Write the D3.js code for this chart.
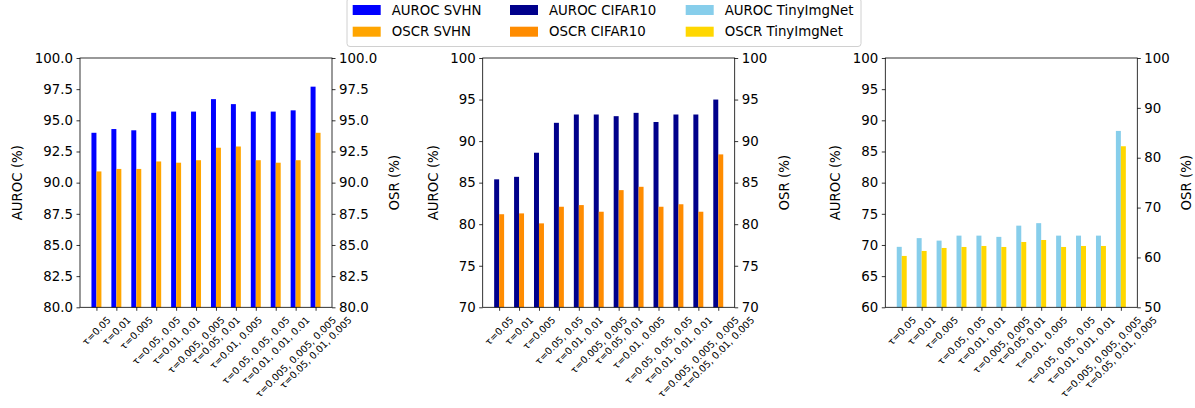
<!DOCTYPE html>
<html>
<head>
<meta charset="utf-8">
<script src="https://cdnjs.cloudflare.com/ajax/libs/d3/7.8.5/d3.min.js"></script>
<style>
  body { margin: 0; background: #fff; }
  svg text { font-family: "DejaVu Sans", sans-serif; fill: #000; }
</style>
</head>
<body>
<div id="chart"></div>
<script>
// categories and values
var categories = ["τ=0.05", "τ=0.01", "τ=0.005", "τ=0.05, 0.05", "τ=0.01, 0.01",
    "τ=0.005, 0.005", "τ=0.05, 0.01", "τ=0.01, 0.005", "τ=0.05, 0.05, 0.05",
    "τ=0.01, 0.01, 0.01", "τ=0.005, 0.005, 0.005", "τ=0.05, 0.01, 0.005"];

var aurocSVHN = [94.0, 94.3, 94.2, 95.6, 95.7, 95.7, 96.7, 96.3, 95.7, 95.7, 95.8, 97.7];
var oscrSVHN = [90.9, 91.1, 91.1, 91.7, 91.6, 91.8, 92.8, 92.9, 91.8, 91.6, 91.8, 94.0];
var aurocCIFAR = [85.4, 85.7, 88.6, 92.2, 93.2, 93.2, 93.0, 93.4, 92.3, 93.2, 93.2, 95.0];
var oscrCIFAR = [81.2, 81.3, 80.1, 82.1, 82.3, 81.5, 84.1, 84.5, 82.1, 82.4, 81.5, 88.4];
var aurocTiny = [69.7, 71.1, 70.7, 71.5, 71.5, 71.3, 73.1, 73.5, 71.5, 71.5, 71.5, 88.3];
var oscrTiny = [60.3, 61.3, 61.9, 62.1, 62.3, 62.1, 63.1, 63.5, 62.1, 62.3, 62.3, 82.3];

var leftTicks1 = [80, 82.5, 85, 87.5, 90, 92.5, 95, 97.5, 100];
var leftTicks2 = [70, 75, 80, 85, 90, 95, 100];
var leftTicks3 = [60, 65, 70, 75, 80, 85, 90, 95, 100];
var rightTicks3 = [50, 60, 70, 80, 90, 100];

var legendNames = ["AUROC SVHN", "OSCR SVHN", "AUROC CIFAR10", "OSCR CIFAR10", "AUROC TinyImgNet", "OSCR TinyImgNet"];

var panels = [
    { left: 80, auroc: aurocSVHN, oscr: oscrSVHN, c1: "#0000ff", c2: "#ffa500",
      yl: [80, 100], yr: [80, 100], tl: leftTicks1, tr: leftTicks1, fmt: d3.format(".1f") },
    { left: 482.7, auroc: aurocCIFAR, oscr: oscrCIFAR, c1: "#00008b", c2: "#ff8c00",
      yl: [70, 100], yr: [70, 100], tl: leftTicks2, tr: leftTicks2, fmt: d3.format("d") },
    { left: 885.3, auroc: aurocTiny, oscr: oscrTiny, c1: "#87ceeb", c2: "#ffd700",
      yl: [60, 100], yr: [50, 100], tl: leftTicks3, tr: rightTicks3, fmt: d3.format("d") }
];

var W = 1195, H = 408;
var top_ = 58, bottom_ = 307.3, pw = 252;
var fs = 13.33, xfs = 9.7;

var svg = d3.select("#chart").append("svg")
    .attr("width", W).attr("height", H);

panels.forEach(function (p) {
    var g = svg.append("g").attr("transform", "translate(" + p.left + ",0)");

    var x = d3.scaleLinear().domain([-0.825, 11.825]).range([0, pw]);
    var yl = d3.scaleLinear().domain(p.yl).range([bottom_, top_]);
    var yr = d3.scaleLinear().domain(p.yr).range([bottom_, top_]);

    // bars
    g.selectAll(".b1").data(p.auroc).enter().append("rect")
        .attr("x", function (d, i) { return x(i - 0.25); })
        .attr("width", x(0.25) - x(0))
        .attr("y", function (d) { return yl(d); })
        .attr("height", function (d) { return bottom_ - yl(d); })
        .attr("fill", p.c1);
    g.selectAll(".b2").data(p.oscr).enter().append("rect")
        .attr("x", function (d, i) { return x(i); })
        .attr("width", x(0.25) - x(0))
        .attr("y", function (d) { return yr(d); })
        .attr("height", function (d) { return bottom_ - yr(d); })
        .attr("fill", p.c2);

    // frame
    g.append("rect").attr("x", 0).attr("y", top_).attr("width", pw).attr("height", bottom_ - top_)
        .attr("fill", "none").attr("stroke", "#000").attr("stroke-width", 0.8);

    // y axes
    var gl = g.append("g").call(d3.axisLeft(yl).tickValues(p.tl).tickFormat(p.fmt)
        .tickSize(3.5).tickPadding(3.5));
    var gr = g.append("g").attr("transform", "translate(" + pw + ",0)")
        .call(d3.axisRight(yr).tickValues(p.tr).tickFormat(p.fmt).tickSize(3.5).tickPadding(3.5));
    [gl, gr].forEach(function (a) {
        a.select(".domain").remove();
        a.selectAll("line").attr("stroke", "#000").attr("stroke-width", 0.8);
        a.selectAll("text").style("font-size", fs + "px").attr("fill", "#000");
    });

    var wl = d3.max(gl.selectAll("text").nodes(), function (n) { return n.getComputedTextLength(); });
    var wr = d3.max(gr.selectAll("text").nodes(), function (n) { return n.getComputedTextLength(); });
    var cy = (top_ + bottom_) / 2;

    g.append("text").attr("transform", "translate(" + (-7 - wl - 17) + "," + cy + ") rotate(-90)")
        .attr("text-anchor", "middle").attr("dominant-baseline", "central")
        .style("font-size", fs + "px").text("AUROC (%)");
    g.append("text").attr("transform", "translate(" + (pw + 7 + wr + 17) + "," + cy + ") rotate(-90)")
        .attr("text-anchor", "middle").attr("dominant-baseline", "central")
        .style("font-size", fs + "px").text("OSR (%)");

    // x axis ticks and rotated labels
    var gx = g.append("g").attr("transform", "translate(0," + bottom_ + ")")
        .call(d3.axisBottom(x).tickValues(d3.range(categories.length)).tickFormat("").tickSize(3.5));
    gx.select(".domain").remove();
    gx.selectAll("line").attr("stroke", "#000").attr("stroke-width", 0.8);

    categories.forEach(function (c, i) {
        var t = g.append("text")
            .attr("text-anchor", "middle").attr("dominant-baseline", "central")
            .style("font-size", xfs + "px").text(c);
        var L = t.node().getComputedTextLength();
        var half = (L + xfs * 1.16) / (2 * Math.SQRT2);
        t.attr("transform", "translate(" + x(i) + "," + (bottom_ + 7 + half) + ") rotate(-45)");
    });
});

// legend
var lg = svg.append("g");
lg.append("rect").attr("x", 347).attr("y", -2).attr("width", 514).attr("height", 48.5)
    .attr("rx", 3).attr("fill", "#fff").attr("stroke", "#d0d0d0").attr("stroke-width", 1);

var legendColors = [panels[0].c1, panels[0].c2, panels[1].c1, panels[1].c2, panels[2].c1, panels[2].c2];
var colX = [352.7, 510, 685.7];
var rowY = [10, 31.7];
legendNames.forEach(function (n, i) {
    var col = Math.floor(i / 2), row = i % 2;
    lg.append("rect").attr("x", colX[col]).attr("y", rowY[row] - 5)
        .attr("width", 28).attr("height", 10).attr("fill", legendColors[i]);
    lg.append("text").attr("x", colX[col] + 39).attr("y", rowY[row])
        .attr("dominant-baseline", "central").style("font-size", fs + "px").text(n);
});
</script>
</body>
</html>
